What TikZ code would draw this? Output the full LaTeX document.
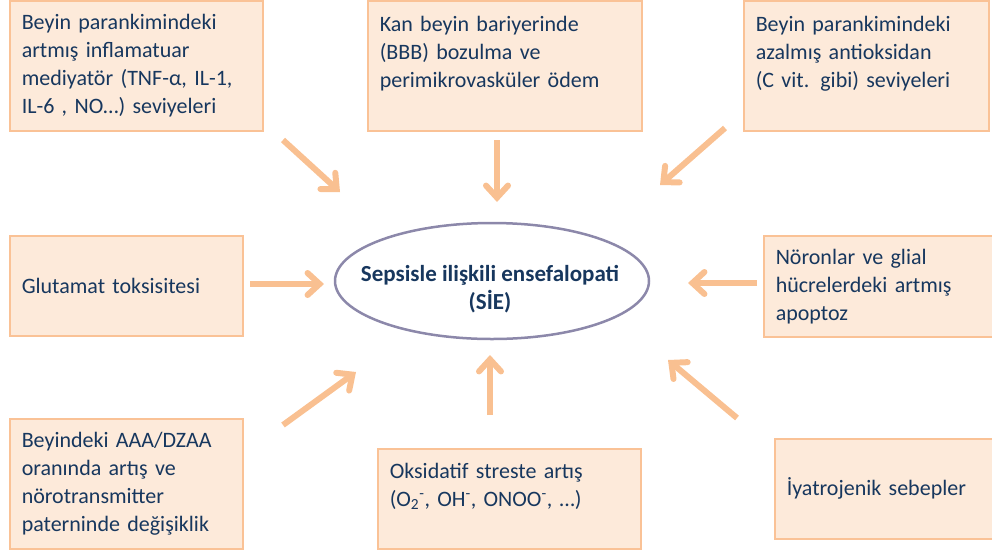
\documentclass[tikz,border=0pt]{standalone}
\usepackage{fontspec}
\setmainfont{Carlito}
\usetikzlibrary{arrows.meta}
\definecolor{boxfill}{RGB}{253,234,218}
\definecolor{boxline}{RGB}{250,194,150}
\definecolor{arrowc}{RGB}{249,192,145}
\definecolor{navy}{RGB}{23,55,94}
\definecolor{ringc}{RGB}{140,136,170}

\begin{document}
\begin{tikzpicture}[x=1pt,y=-1pt,
  cause/.style={draw=boxline,fill=boxfill,line width=1.5pt,text=navy,
    align=left,inner xsep=12pt,anchor=north west,
    font=\fontsize{22}{28}\selectfont},
  pointer/.style={draw=arrowc,line width=6pt,
    -{Straight Barb[length=12pt,width=22pt,line cap=round]}}]
\useasboundingbox (0,0) rectangle (992,552);

% causes
\node[cause,text width=229pt,minimum height=130pt] (infl) at (9,0)
  {Beyin parankimindeki\\artmış\ inflamatuar\\mediyatör (TNF-α, IL-1,\\IL-6 , NO…) seviyeleri};
\node[cause,text width=250pt,minimum height=130pt] (bbb) at (367,0)
  {Kan beyin bariyerinde\\(BBB) bozulma ve\\perimikrovasküler ödem\\\mbox{}};
\node[cause,text width=221pt,minimum height=130pt] (antiox) at (743,0)
  {Beyin parankimindeki\\azalmış antioksidan\\(C vit. gibi) seviyeleri\\\mbox{}};
\node[cause,text width=209pt,minimum height=100pt] (glut) at (9,235)
  {Glutamat toksisitesi};
\node[cause,text width=211pt,minimum height=101pt] (apop) at (763,235)
  {Nöronlar ve glial\\hücrelerdeki artmış\\apoptoz};
\node[cause,text width=209pt,minimum height=130pt] (aaa) at (9,418)
  {Beyindeki AAA/DZAA\\oranında artış ve\\nörotransmitter\\paterninde değişiklik};
\node[cause,text width=239pt,minimum height=100pt] (oxid) at (377,448)
  {Oksidatif streste artış\\(O\textsubscript{2}\textsuperscript{-}, OH\textsuperscript{-}, ONOO\textsuperscript{-}, …)\\\mbox{}};
\node[cause,text width=207pt,minimum height=100pt] (iatro) at (774,438)
  {İyatrojenik sebepler};

% center
\coordinate (sie-c) at (492,281);
\draw[ringc,fill=white,line width=2.5pt] (sie-c) ellipse [x radius=157, y radius=58];
\node[text=navy,align=center,font=\bfseries\fontsize{23}{28}\selectfont]
  (sie) at (490,289) {Sepsisle ilişkili ensefalopati\\(SİE)};

% arrow ends
\coordinate (infl-a) at (283,140);  \coordinate (infl-b) at (340,192);
\coordinate (bbb-a) at (497,140);   \coordinate (bbb-b) at (497,202);
\coordinate (antiox-a) at (725,128); \coordinate (antiox-b) at (660,185);
\coordinate (glut-a) at (250,284);  \coordinate (glut-b) at (324,284);
\coordinate (apop-a) at (757,283);  \coordinate (apop-b) at (688,283);
\coordinate (aaa-a) at (283,425);   \coordinate (aaa-b) at (356,372);
\coordinate (oxid-a) at (490,415);  \coordinate (oxid-b) at (490,355);
\coordinate (iatro-a) at (737,418); \coordinate (iatro-b) at (668,360);

\foreach \c in {infl,bbb,antiox,glut,apop,aaa,oxid,iatro}
  \draw[pointer] (\c-a) -- (\c-b);
\end{tikzpicture}
\end{document}
